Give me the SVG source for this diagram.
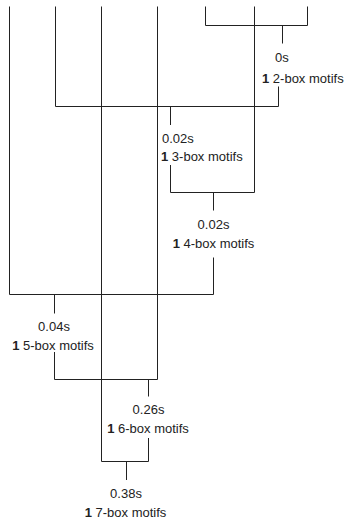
<svg xmlns="http://www.w3.org/2000/svg" width="346" height="519" viewBox="0 0 346 519">
<style>
.c{fill:none;stroke:#222;stroke-width:1}
text{font-family:"Liberation Sans",Arial,sans-serif;font-size:13px;fill:#222}
.m{text-anchor:middle}
.b{font-weight:bold}
</style>
<rect width="346" height="519" fill="#fff"/>
<g id="connectors">
<path class="c" d="M9.5 6.5V294.5M55.5 6.5V106.5M101.5 6.5V461.5M157.5 6.5V379.5M205.5 6.5V25.5M254.5 6.5V192.5M307.5 6.5V25.5"/>
<path class="c" d="M205.5 25.5H307.5M282.5 25.5V43.5"/>
<path class="c" d="M278.5 86.5V106.5H55.5M170.5 106.5V125"/>
<path class="c" d="M170.5 165V192.5H254.5M213.5 192.5V210.5"/>
<path class="c" d="M213.5 257.5V294.5H9.5M54.5 294.5V313.5"/>
<path class="c" d="M54.5 352V379.5H157.5M148.5 379.5V396.5"/>
<path class="c" d="M148.5 438V461.5H101.5M126.5 461.5V480"/>
</g>
<g id="n2"><text x="275" y="62">0s</text><text x="262" y="83"><tspan class="b">1</tspan> 2-box motifs</text></g>
<g id="n3"><text x="162" y="142.5">0.02s</text><text x="161" y="161"><tspan class="b">1</tspan> 3-box motifs</text></g>
<g id="n4"><text class="m" x="213.5" y="228.5">0.02s</text><text class="m" x="213.5" y="247.5"><tspan class="b">1</tspan> 4-box motifs</text></g>
<g id="n5"><text class="m" x="54" y="330.5">0.04s</text><text class="m" x="53" y="350"><tspan class="b">1</tspan> 5-box motifs</text></g>
<g id="n6"><text class="m" x="148.5" y="414">0.26s</text><text class="m" x="148" y="432.5"><tspan class="b">1</tspan> 6-box motifs</text></g>
<g id="n7"><text class="m" x="126" y="497.5">0.38s</text><text class="m" x="125.5" y="516.5"><tspan class="b">1</tspan> 7-box motifs</text></g>
</svg>
